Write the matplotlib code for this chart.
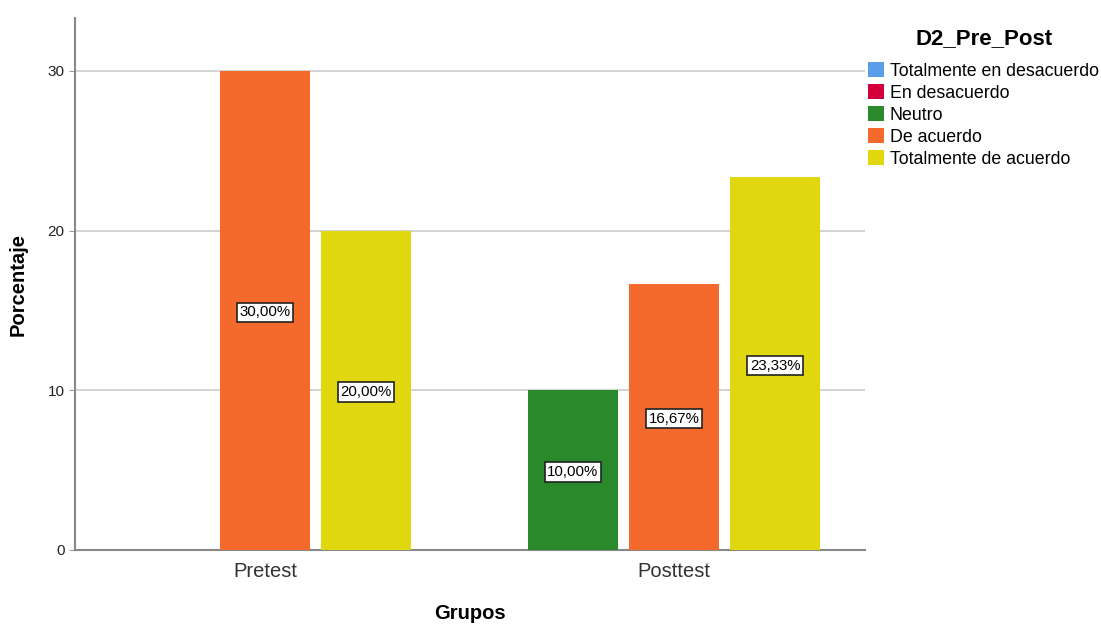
import numpy as np
import matplotlib
matplotlib.use("Agg")
from matplotlib import pyplot as plt
from matplotlib.patches import Patch

plt.rcParams['font.family'] = ['Liberation Sans', 'DejaVu Sans']

# datos del grafico
grupos = ["Pretest", "Posttest"]
categorias = ["Totalmente en desacuerdo", "En desacuerdo", "Neutro",
              "De acuerdo", "Totalmente de acuerdo"]
colores = ["#5a9de8", "#d4003b", "#2a8a2b", "#f4692c", "#e1d70f"]
pretest = [0, 0, 0, 30.00, 20.00]
posttest = [0, 0, 10.00, 16.67, 23.33]
valores = np.array([pretest, posttest])

fig = plt.figure(figsize=(11.01, 6.24), dpi=100)
ax = fig.add_axes([0.0681, 0.1186, 0.7176, 0.8524])

# solo las categorias con datos ocupan sitio en cada grupo
usadas = [j for j in range(len(categorias)) if valores[:, j].sum() > 0]
paso = 0.247
ancho = 0.22
x = np.arange(len(grupos))
for k, j in enumerate(usadas):
    desp = (k - (len(usadas) - 1) / 2) * paso
    for i in range(len(grupos)):
        v = valores[i, j]
        if v <= 0:
            continue
        ax.bar(x[i] + desp, v, width=ancho, color=colores[j], zorder=3)
        ax.text(x[i] + desp, v / 2 - 0.12, ("%.2f%%" % v).replace(".", ","),
                ha="center", va="center", fontsize=10.8, zorder=4,
                bbox=dict(boxstyle="square,pad=0.18", fc="white",
                          ec="#222222", lw=1.2))

ax.set_xlim(-0.4645, 1.467)
ax.set_ylim(0, 33.3)
ax.set_yticks([0, 10, 20, 30])
ax.set_xticks(x)
ax.set_xticklabels(grupos, fontsize=14.5, color="#333333")
ax.tick_params(axis="x", length=0, pad=9)
ax.tick_params(axis="y", length=4, color="#999999", labelsize=11, labelcolor="#222222")
ax.yaxis.grid(True, color="#c8c8c8", lw=1.1, zorder=0)
for s in ["top", "right"]:
    ax.spines[s].set_visible(False)
for s in ["left", "bottom"]:
    ax.spines[s].set_color("#888888")
    ax.spines[s].set_linewidth(1.5)

ax.set_ylabel("Porcentaje", fontsize=14.5, fontweight="bold", labelpad=14)
ax.set_xlabel("Grupos", fontsize=14.5, fontweight="bold", labelpad=16)

# leyenda con titulo aparte
fig.text(0.894, 0.939, "D2_Pre_Post", ha="center", va="center",
         fontsize=16, fontweight="bold")
manijas = [Patch(facecolor=c, edgecolor="none") for c in colores]
fig.legend(manijas, categorias, loc="upper left",
           bbox_to_anchor=(0.788, 0.901), frameon=False, fontsize=12.8,
           handlelength=0.95, handleheight=0.95, handletextpad=0.3,
           labelspacing=0.24, borderaxespad=0, borderpad=0)

fig.savefig("out.png", dpi=100)
